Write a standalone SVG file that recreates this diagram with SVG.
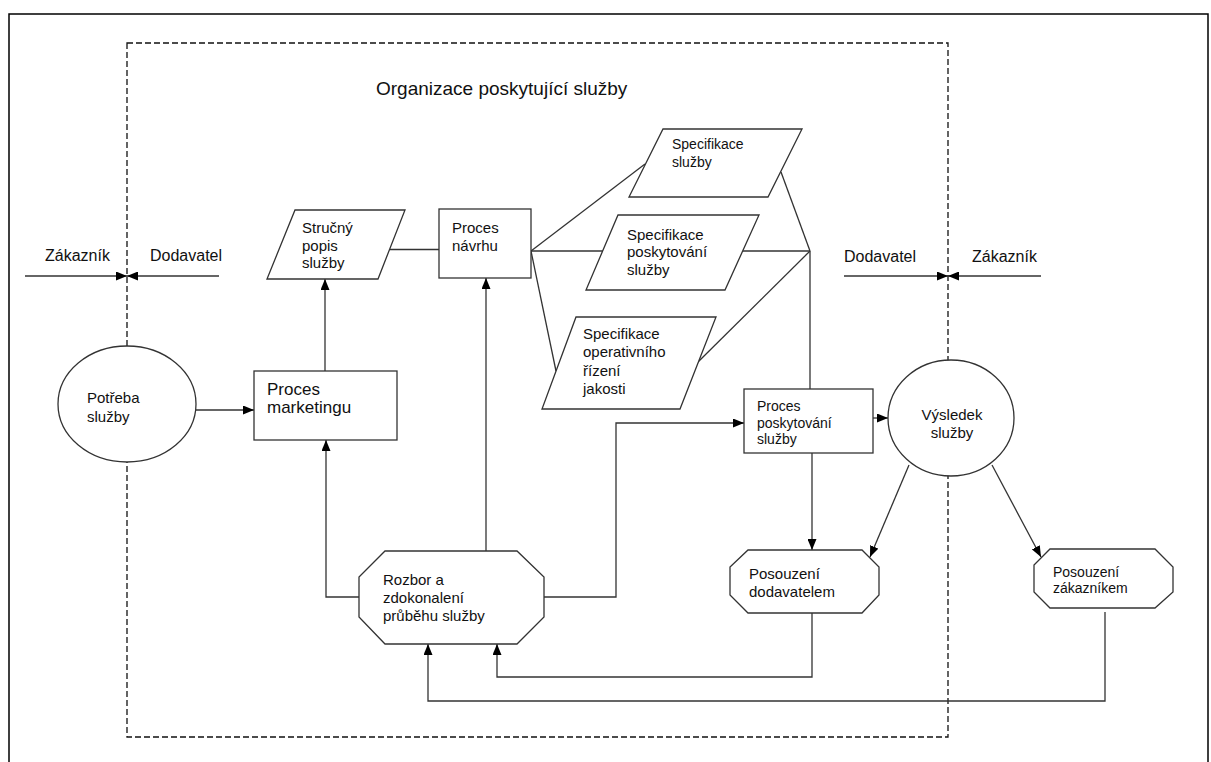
<svg xmlns="http://www.w3.org/2000/svg" width="1211" height="762" viewBox="0 0 1211 762">
<defs>
<marker id="arr" markerWidth="11" markerHeight="9" refX="11" refY="4.5" orient="auto" markerUnits="userSpaceOnUse">
<path d="M0,0 L11,4.5 L0,9 z" fill="#000"/>
</marker>
</defs>
<style>
.t{font-family:"Liberation Sans",Arial,sans-serif;font-size:15px;fill:#111}
.s{fill:#fff;stroke:#333;stroke-width:1.3}
.c{fill:none;stroke:#333;stroke-width:1.3}
.a{marker-end:url(#arr)}
.d{fill:none;stroke:#111;stroke-width:1.3;stroke-dasharray:6 3}
</style>
<rect width="1211" height="762" fill="#fff"/>
<path d="M9,775 V14 H1208 V775" fill="none" stroke="#000" stroke-width="1.5"/>
<g id="org">
<rect class="d" x="127" y="43" width="821" height="694"/>
<text class="t" x="376" y="95" style="font-size:19px">Organizace poskytující služby</text>
</g>
<g id="sides">
<text class="t" x="45" y="261" style="font-size:16px">Zákazník</text>
<text class="t" x="150" y="261" style="font-size:16px">Dodavatel</text>
<text class="t" x="844" y="262" style="font-size:16px">Dodavatel</text>
<text class="t" x="972" y="262" style="font-size:16px">Zákazník</text>
</g>
<g id="connectors">
<line class="c a" x1="25" y1="276" x2="127" y2="276"/>
<line class="c a" x1="219" y1="276" x2="127" y2="276"/>
<line class="c a" x1="844" y1="276" x2="948" y2="276"/>
<line class="c a" x1="1041" y1="276" x2="948" y2="276"/>
<line class="c" x1="390" y1="249.5" x2="439" y2="249.5"/>
<line class="c" x1="531" y1="251" x2="645" y2="164"/>
<line class="c" x1="531" y1="251" x2="810" y2="251"/>
<line class="c" x1="531" y1="251" x2="556" y2="371"/>
<line class="c" x1="781" y1="172" x2="810" y2="251"/>
<line class="c" x1="698" y1="362" x2="810" y2="251"/>
<line class="c" x1="810" y1="251" x2="810" y2="389"/>
<line class="c a" x1="196" y1="410" x2="254" y2="410"/>
<line class="c a" x1="325" y1="371" x2="325" y2="279"/>
<polyline class="c a" points="359,597 326,597 326,440"/>
<line class="c a" x1="486" y1="551" x2="486" y2="278"/>
<polyline class="c a" points="544,597 616,597 616,423 744,423"/>
<line class="c a" x1="873" y1="418" x2="888" y2="418"/>
<line class="c a" x1="812" y1="453" x2="812" y2="550"/>
<line class="c a" x1="909" y1="465" x2="870" y2="557"/>
<line class="c a" x1="992" y1="465" x2="1041" y2="557"/>
<polyline class="c a" points="812,613 812,677 497,677 497,644"/>
<polyline class="c a" points="1105,612 1105,701 428,701 428,644"/>
</g>
<g id="potreba">
<ellipse class="s" cx="127" cy="404" rx="69" ry="58"/>
<text class="t" x="87" y="403">Potřeba</text>
<text class="t" x="87" y="422">služby</text>
</g>
<g id="marketing">
<rect class="s" x="254" y="371" width="143" height="69"/>
<text class="t" x="267" y="395" style="font-size:17px">Proces</text>
<text class="t" x="267" y="413" style="font-size:17px">marketingu</text>
</g>
<g id="strucny">
<polygon class="s" points="295,210 405,210 378,279 267,279"/>
<text class="t" x="302" y="233">Stručný</text>
<text class="t" x="302" y="251">popis</text>
<text class="t" x="302" y="268">služby</text>
</g>
<g id="navrh">
<rect class="s" x="439" y="209" width="92" height="69"/>
<text class="t" x="452" y="233">Proces</text>
<text class="t" x="452" y="251">návrhu</text>
</g>
<g id="spec-sluzby">
<polygon class="s" points="663,129 802,129 768,197 629,197"/>
<text class="t" x="672" y="149" style="font-size:14px">Specifikace</text>
<text class="t" x="672" y="167" style="font-size:14px">služby</text>
</g>
<g id="spec-poskytovani">
<polygon class="s" points="618,215 759,215 725,290 586,290"/>
<text class="t" x="627" y="240">Specifikace</text>
<text class="t" x="627" y="257">poskytování</text>
<text class="t" x="627" y="275">služby</text>
</g>
<g id="spec-operativniho">
<polygon class="s" points="576,317 716,317 680,409 542,409"/>
<text class="t" x="583" y="339">Specifikace</text>
<text class="t" x="583" y="357">operativního</text>
<text class="t" x="583" y="376">řízení</text>
<text class="t" x="583" y="394">jakosti</text>
</g>
<g id="poskytovani">
<rect class="s" x="744" y="389" width="129" height="64"/>
<text class="t" x="757" y="411" style="font-size:14px">Proces</text>
<text class="t" x="757" y="428" style="font-size:14px">poskytování</text>
<text class="t" x="757" y="444" style="font-size:14px">služby</text>
</g>
<g id="vysledek">
<ellipse class="s" cx="951" cy="418" rx="63" ry="58"/>
<text class="t" x="952" y="420" text-anchor="middle">Výsledek</text>
<text class="t" x="952" y="438" text-anchor="middle">služby</text>
</g>
<g id="rozbor">
<polygon class="s" points="385,551 517,551 544,577 544,617 517,644 385,644 359,617 359,577"/>
<text class="t" x="383" y="585">Rozbor a</text>
<text class="t" x="383" y="603">zdokonalení</text>
<text class="t" x="383" y="621">průběhu služby</text>
</g>
<g id="pos-dodavatel">
<polygon class="s" points="748,550 862,550 879,567 879,595 862,613 748,613 730,595 730,567"/>
<text class="t" x="749" y="579">Posouzení</text>
<text class="t" x="749" y="597">dodavatelem</text>
</g>
<g id="pos-zakaznik">
<polygon class="s" points="1050,549 1155,549 1173,567 1173,592 1155,608 1050,608 1034,592 1034,565"/>
<text class="t" x="1053" y="577" style="font-size:14px">Posouzení</text>
<text class="t" x="1053" y="593" style="font-size:14px">zákazníkem</text>
</g>
</svg>
